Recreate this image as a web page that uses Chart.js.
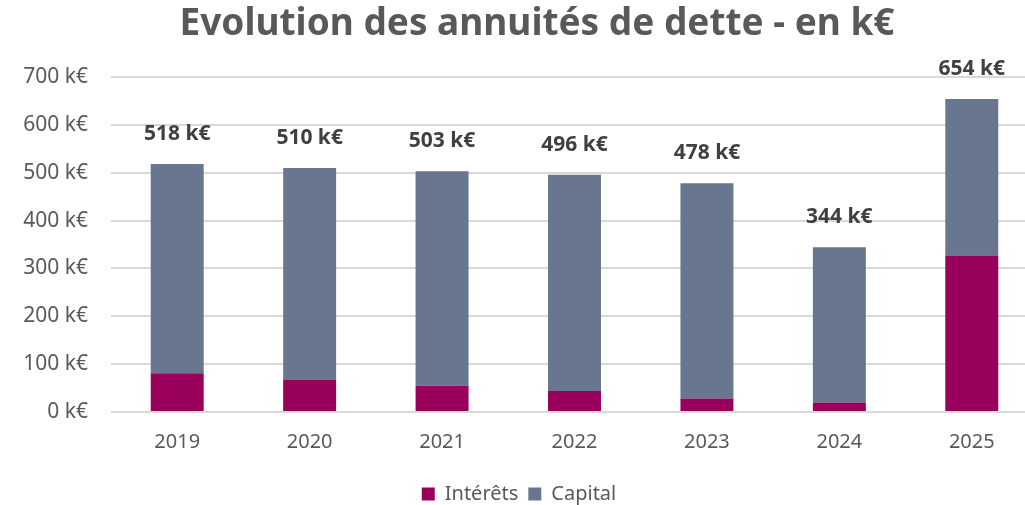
<!DOCTYPE html>
<html>
<head>
<meta charset="utf-8">
<script src="https://cdn.jsdelivr.net/npm/chart.js@4"></script>
<style>
  body { margin: 0; overflow: hidden; background: #fff; }
  #chart-container { position: relative; width: 1040px; height: 505px; }
</style>
</head>
<body>
<div id="chart-container">
  <canvas id="myChart"></canvas>
</div>
<script>
// data (k€)
const years = ['2019', '2020', '2021', '2022', '2023', '2024', '2025'];
const interets = [81, 68, 55, 44, 28, 20, 327];
const capital = [437, 442, 448, 452, 450, 324, 327];
const yTicks = [0, 100, 200, 300, 400, 500, 600, 700];

const titleText = 'Evolution des annuités de dette - en k€';
const fontName = '"Noto Sans", sans-serif';
const textGrey = '#595959';

// title is drawn by hand so it can sit off the canvas centre like the original
const titlePlugin = {
    id: 'customTitle',
    afterDraw(chart) {
        const ctx = chart.ctx;
        ctx.save();
        ctx.font = 'bold 37px ' + fontName;
        ctx.fillStyle = textGrey;
        ctx.textAlign = 'center';
        ctx.textBaseline = 'middle';
        ctx.fillText(titleText, 537, 24);
        ctx.restore();
    }
};

// total above every stack
const totalsPlugin = {
    id: 'totals',
    afterDatasetsDraw(chart) {
        const ctx = chart.ctx;
        const yScale = chart.scales.y;
        const meta = chart.getDatasetMeta(1);
        ctx.save();
        ctx.font = 'bold 21px ' + fontName;
        ctx.fillStyle = '#404040';
        ctx.textAlign = 'center';
        ctx.textBaseline = 'middle';
        years.forEach((year, i) => {
            const total = interets[i] + capital[i];
            ctx.fillText(total + ' k€', meta.data[i].x, yScale.getPixelForValue(total) - 30);
        });
        ctx.restore();
    }
};

const ctx = document.getElementById('myChart').getContext('2d');
const myChart = new Chart(ctx, {
    type: 'bar',
    data: {
        labels: years,
        datasets: [
            {
                label: 'Intérêts',
                data: interets,
                backgroundColor: '#98005c',
                barPercentage: 0.4,
                categoryPercentage: 1
            },
            {
                label: 'Capital',
                data: capital,
                backgroundColor: '#68768f',
                barPercentage: 0.4,
                categoryPercentage: 1
            }
        ]
    },
    options: {
        responsive: true,
        maintainAspectRatio: false,
        animation: false,
        layout: {
            padding: { top: 77, right: 2, left: 0, bottom: -9 }
        },
        scales: {
            x: {
                stacked: true,
                grid: { display: false },
                border: { display: false },
                ticks: {
                    color: textGrey,
                    font: { family: fontName, size: 20 },
                    padding: 10
                },
                afterFit(scale) { scale.height = 62; }
            },
            y: {
                stacked: true,
                min: 0,
                max: 700,
                afterBuildTicks(scale) {
                    scale.ticks = yTicks.map(v => ({ value: v }));
                },
                grid: { color: '#d9d9d9', lineWidth: 2, drawTicks: false },
                border: { display: false },
                ticks: {
                    color: textGrey,
                    font: { family: fontName, size: 21 },
                    padding: 23,
                    callback: value => value + ' k€'
                },
                afterFit(scale) { scale.width = 111; }
            }
        },
        plugins: {
            title: { display: false },
            tooltip: { enabled: false },
            legend: {
                position: 'bottom',
                labels: {
                    boxWidth: 13,
                    boxHeight: 13,
                    padding: 10,
                    color: textGrey,
                    font: { family: fontName, size: 20 }
                }
            }
        }
    },
    plugins: [titlePlugin, totalsPlugin]
});
</script>
</body>
</html>
